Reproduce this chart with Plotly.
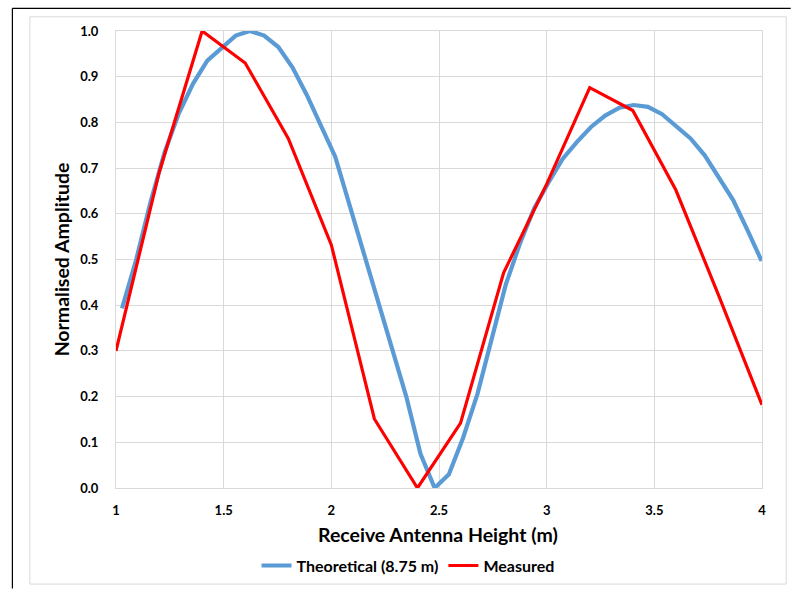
import plotly.graph_objects as go

# Receive antenna height (m) and normalised amplitude
theory_height = [1.028, 1.094, 1.160, 1.226, 1.292, 1.358, 1.424, 1.490, 1.556, 1.622,
                 1.688, 1.754, 1.820, 1.886, 1.952, 2.018, 2.084, 2.150, 2.216, 2.282,
                 2.348, 2.414, 2.480, 2.546, 2.612, 2.678, 2.744, 2.810, 2.876, 2.942,
                 3.008, 3.074, 3.140, 3.206, 3.272, 3.338, 3.404, 3.470, 3.536, 3.602,
                 3.668, 3.734, 3.800, 3.866, 3.932, 3.998]
theory_amp = [0.393, 0.500, 0.625, 0.735, 0.820, 0.885, 0.935, 0.963, 0.990, 1.000,
              0.990, 0.965, 0.920, 0.860, 0.790, 0.725, 0.620, 0.515, 0.410, 0.310,
              0.200, 0.075, 0.000, 0.030, 0.110, 0.205, 0.322, 0.445, 0.535, 0.612,
              0.668, 0.720, 0.757, 0.790, 0.815, 0.832, 0.838, 0.834, 0.818, 0.792,
              0.765, 0.728, 0.680, 0.630, 0.565, 0.497]

measured_height = [1.0, 1.2, 1.4, 1.6, 1.8, 2.0, 2.2, 2.4, 2.6, 2.8, 3.0, 3.2, 3.4, 3.6, 3.8, 4.0]
measured_amp = [0.30, 0.69, 1.00, 0.93, 0.765, 0.532, 0.151, 0.00, 0.142, 0.471,
                0.665, 0.876, 0.826, 0.652, 0.42, 0.182]

x_ticks = [1, 1.5, 2, 2.5, 3, 3.5, 4]
x_tick_text = ["1", "1.5", "2", "2.5", "3", "3.5", "4"]
y_ticks = [0.0, 0.1, 0.2, 0.3, 0.4, 0.5, 0.6, 0.7, 0.8, 0.9, 1.0]

W, H = 791, 589
L, R, T, B = 115.7, 762.3, 30.7, 488.3  # plot area in pixels
PW, PH = R - L, B - T


def px(x):
    return (x - L) / PW


def py(y):
    return (B - y) / PH


FONT = "Lato"
GRID = "#d9d9d9"

fig = go.Figure()
fig.add_trace(go.Scatter(
    x=theory_height, y=theory_amp, mode="lines", name="Theoretical (8.75 m)",
    line=dict(color="#5B9BD5", width=4.2),
))
fig.add_trace(go.Scatter(
    x=measured_height, y=measured_amp, mode="lines", name="Measured",
    line=dict(color="#FF0000", width=3.2),
))

fig.update_layout(
    width=W, height=H,
    margin=dict(l=L, r=W - R, t=T, b=H - B, pad=0, autoexpand=False),
    paper_bgcolor="white", plot_bgcolor="white",
    font=dict(family=FONT, color="#000000"),
    showlegend=True,
    legend=dict(
        orientation="h", x=px(408), xanchor="center", y=py(566), yanchor="middle",
        font=dict(family=FONT, size=16, weight="bold", color="#000000"),
        itemwidth=30, tracegroupgap=0, bgcolor="rgba(0,0,0,0)",
    ),
    xaxis=dict(
        range=[1, 4], tickvals=x_ticks, ticktext=x_tick_text,
        showgrid=True, gridcolor=GRID, gridwidth=1,
        showline=True, linecolor=GRID, linewidth=1, mirror=True,
        zeroline=False, ticks="", ticklabelstandoff=10, automargin=False,
        tickfont=dict(family=FONT, size=13, weight="bold", color="#000000"),
    ),
    yaxis=dict(
        range=[0, 1], tickvals=y_ticks, tickformat=".1f",
        showgrid=True, gridcolor=GRID, gridwidth=1,
        showline=True, linecolor=GRID, linewidth=1, mirror=True,
        zeroline=False, ticks="", ticklabelstandoff=14, automargin=False,
        tickfont=dict(family=FONT, size=13, weight="bold", color="#000000"),
    ),
    annotations=[
        dict(text="Receive Antenna Height (m)", xref="paper", yref="paper",
             x=px(438), y=py(535), xanchor="center", yanchor="middle", showarrow=False,
             font=dict(family=FONT, size=19.5, weight="bold", color="#000000")),
        dict(text="Normalised Amplitude", xref="paper", yref="paper",
             x=px(61), y=py(259), xanchor="center", yanchor="middle", showarrow=False,
             textangle=-90,
             font=dict(family=FONT, size=19.5, weight="bold", color="#000000")),
    ],
    shapes=[
        # light chart-area frame
        dict(type="rect", xref="paper", yref="paper",
             x0=px(29.5), x1=px(786.5), y0=py(584.5), y1=py(16.5),
             line=dict(color=GRID, width=1), layer="below"),
        # dark edge lines along the top and left
        dict(type="line", xref="paper", yref="paper",
             x0=px(12), x1=px(791), y0=py(8), y1=py(8),
             line=dict(color="#000000", width=1.2)),
        dict(type="line", xref="paper", yref="paper",
             x0=px(12), x1=px(12), y0=py(8), y1=py(589),
             line=dict(color="#000000", width=1.2)),
    ],
)

fig.write_html("out.html")
